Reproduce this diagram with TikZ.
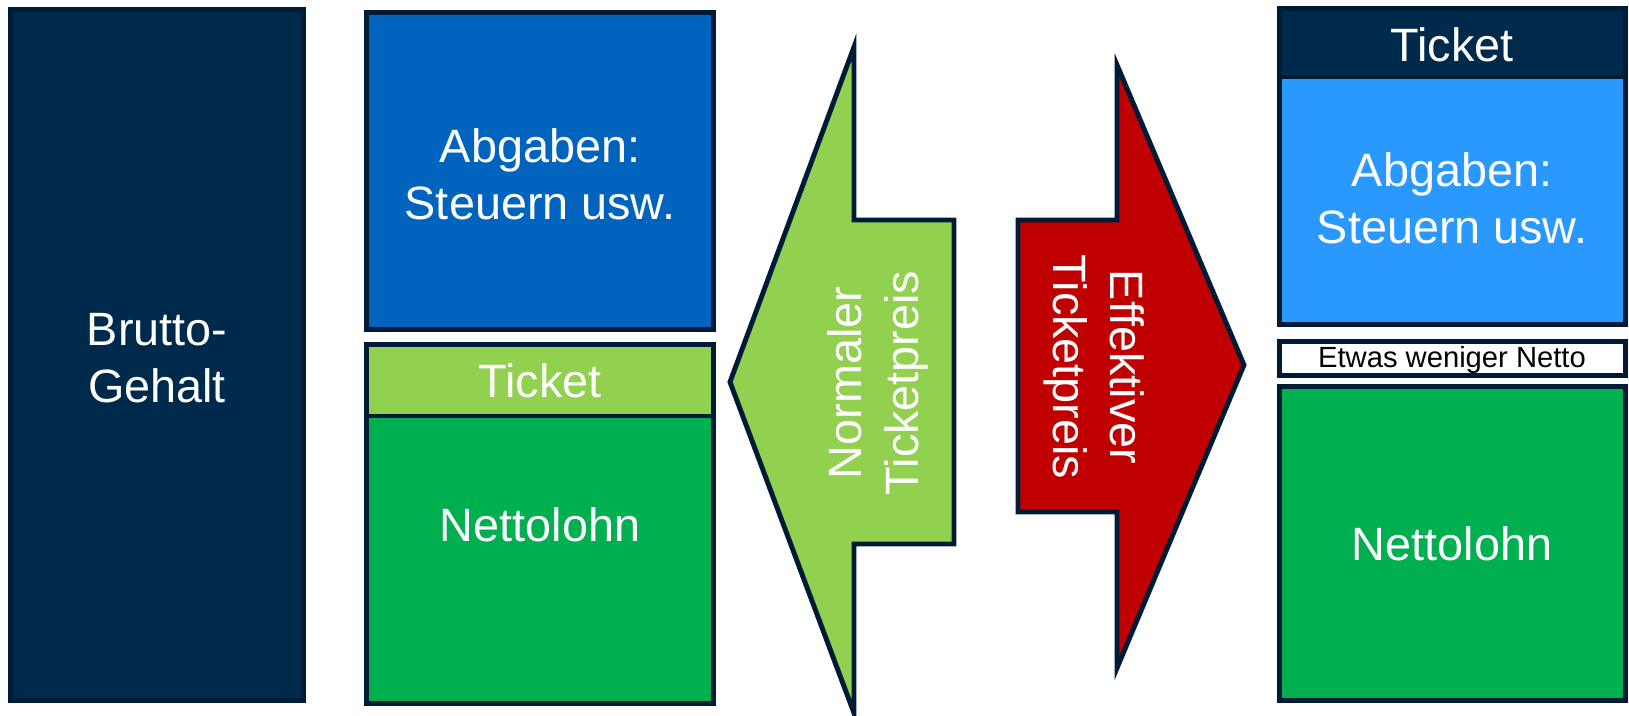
\documentclass[tikz,border=0pt]{standalone}
\usepackage{fontspec}
\setmainfont{Liberation Sans}
\usepackage{tikz}
\tikzset{box/.style = {draw = mdark, line width = 1.4pt, line join = miter},
  txt/.style = {text = white, align = center, inner sep = 0,
    font = \fontsize{13.3}{16.2}\selectfont}}
\definecolor{mdark}{RGB}{0, 27, 53}
\definecolor{mnavy}{RGB}{0, 42, 76}
\definecolor{mblue}{RGB}{0, 100, 190}
\definecolor{mlight}{RGB}{41, 153, 255}
\definecolor{mlime}{RGB}{146, 208, 80}
\definecolor{mgreen}{RGB}{0, 176, 80}
\definecolor{mred}{RGB}{192, 0, 0}

\begin{document}
\begin{tikzpicture}[x = 0.01cm, y = -0.01cm]
      \useasboundingbox (0, 0) rectangle (1629, 716);

      % brutto
      \draw [box, fill = mnavy] (10.5, 9.5) rectangle (303.5, 700.5);
      \node [txt] (brutto) at (157, 358) {Brutto-\\Gehalt};

      % normal
      \draw [box, fill = mblue] (366.5, 12.5) rectangle (713.5, 329.5);
      \node [txt] (abgaben) at (540, 174) {Abgaben:\\Steuern usw.};
      \draw [box, fill = mgreen] (366.5, 416) rectangle (713.5, 703.5);
      \draw [box, fill = mlime] (366.5, 344.5) rectangle (713.5, 416);
      \node [txt] (ticketa) at (540, 381) {Ticket};
      \node [txt] (nettoa) at (540, 525) {Nettolohn};

      % arrows
      \draw [box, fill = mlime] (730, 382) -- (854, 47) -- (854, 220) -- (954, 220)
        -- (954, 544) -- (854, 544) -- (854, 713) -- cycle;
      \node [txt, rotate = 90] (normal) at (878, 383) {Normaler\\Ticketpreis};

      \draw [box, fill = mred] (1244, 365) -- (1117, 668) -- (1117, 512) -- (1018, 512)
        -- (1018, 220) -- (1117, 220) -- (1117, 65) -- cycle;
      \node [txt, rotate = -90] (effektiv) at (1094, 367) {Effektiver\\Ticketpreis};

      % effektiv
      \draw [box, fill = mlight] (1279.5, 77) rectangle (1625.5, 324.5);
      \draw [box, fill = mnavy] (1279.5, 8.5) rectangle (1625.5, 77);
      \node [txt] (ticketb) at (1452, 45) {Ticket};
      \node [txt] (abgabenb) at (1452, 198) {Abgaben:\\Steuern usw.};

      \draw [box, fill = white] (1279.5, 341.5) rectangle (1625.5, 375.5);
      \node [txt, text = black, font = \fontsize{8.3}{10}\selectfont] (weniger) at (1452, 360) {Etwas weniger Netto};

      \draw [box, fill = mgreen] (1279.5, 386.5) rectangle (1625.5, 700.5);
      \node [txt] (nettob) at (1452, 544) {Nettolohn};
    \end{tikzpicture}
\end{document}
